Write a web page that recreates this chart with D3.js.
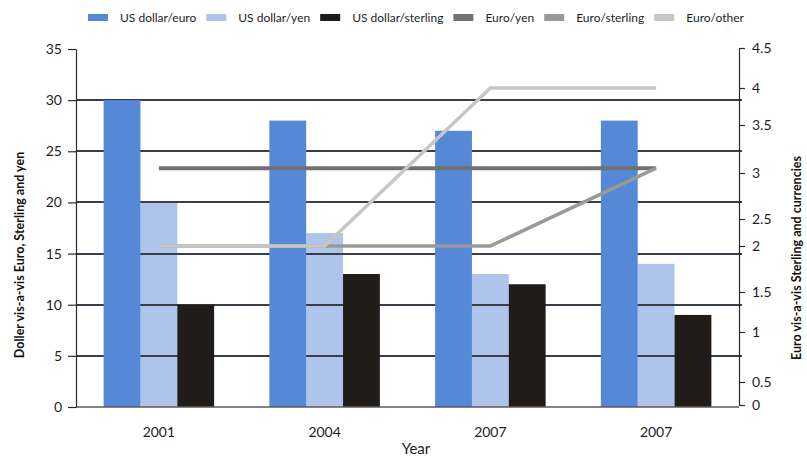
<!DOCTYPE html>
<html>
<head>
<meta charset="utf-8">
<script src="https://cdn.jsdelivr.net/npm/d3@7/dist/d3.min.js"></script>
<style>
  html, body { margin: 0; padding: 0; background: #fff; }
  svg { display: block; font-family: Lato, "Open Sans", sans-serif; }
</style>
</head>
<body>
<svg id="chart" width="807" height="458"></svg>
<script>
// Categories and series
const years = ["2001", "2004", "2007", "2007"];
const usdEuro = [30, 28, 27, 28];
const usdYen = [20, 17, 13, 14];
const usdSterling = [10, 13, 12, 9];
const euroYen = [3.05, 3.05, 3.05, 3.05];
const euroSterling = [2, 2, 2, 3.05];
const euroOther = [2, 2, 4, 4];

// Tick labels
const leftTicks = [0, 5, 10, 15, 20, 25, 30, 35];
const rightTicks = [0, 0.5, 1, 1.5, 2, 2.5, 3, 3.5, 4, 4.5];

const barSeries = [
  { name: "US dollar/euro", values: usdEuro, color: "#5588d6", underGrid: false },
  { name: "US dollar/yen", values: usdYen, color: "#afc4ea", underGrid: true },
  { name: "US dollar/sterling", values: usdSterling, color: "#201c19", underGrid: false }
];
const lineSeries = [
  { name: "Euro/yen", values: euroYen, color: "#717171", width: 4 },
  { name: "Euro/sterling", values: euroSterling, color: "#999999", width: 3.5 },
  { name: "Euro/other", values: euroOther, color: "#c6c6c6", width: 3.5 }
];

const svg = d3.select("#chart");
const plotLeft = 76, plotRight = 739, plotTop = 49, plotBottom = 407;

const x = d3.scaleBand().domain(d3.range(years.length)).range([plotLeft, plotRight])
  .paddingInner(1 / 3).paddingOuter(1 / 6);
const xc = i => x(i) + x.bandwidth() / 2;
const xSub = d3.scaleBand().domain(d3.range(barSeries.length)).range([0, x.bandwidth()]);

const yL = d3.scaleLinear().domain([0, 35]).range([plotBottom, plotTop]);
// secondary axis: tick positions as laid out on the right-hand scale
const yR = d3.scaleLinear().domain(rightTicks)
  .range([405, 382, 332, 292, 246, 219, 173, 125, 88, 48]);

const underLayer = svg.append("g").attr("class", "under");
const gridLayer = svg.append("g").attr("class", "grid");
const overLayer = svg.append("g").attr("class", "over");

// Bars
barSeries.forEach((s, si) => {
  (s.underGrid ? underLayer : overLayer).append("g").selectAll("rect")
    .data(s.values)
    .join("rect")
    .attr("x", (d, i) => x(i) + xSub(si))
    .attr("width", xSub.bandwidth())
    .attr("y", d => yL(d))
    .attr("height", d => yL(0) - yL(d))
    .attr("fill", s.color);
});

// Gridlines from the left axis: they run over the yen bars, under the others
gridLayer.selectAll("line")
  .data(leftTicks.filter(t => t > 0 && t < 35))
  .join("line")
  .attr("x1", plotLeft).attr("x2", plotRight + 3)
  .attr("y1", d => Math.round(yL(d))).attr("y2", d => Math.round(yL(d)))
  .attr("stroke", "#3a3e48").attr("stroke-width", 2);

// x baseline
svg.append("line")
  .attr("x1", plotLeft).attr("x2", plotRight)
  .attr("y1", yL(0)).attr("y2", yL(0))
  .attr("stroke", "#5e5a58").attr("stroke-width", 1.6);

// Lines on the secondary axis
const line = d3.line().x((d, i) => xc(i)).y(d => yR(d));
lineSeries.forEach(s => {
  svg.append("path")
    .datum(s.values)
    .attr("d", line)
    .attr("fill", "none")
    .attr("stroke", s.color)
    .attr("stroke-width", s.width)
    .attr("stroke-linejoin", "miter");
});

// Axes
const axisL = svg.append("g").attr("transform", `translate(${plotLeft},0)`)
  .call(d3.axisLeft(yL).tickValues(leftTicks).tickSize(8).tickSizeOuter(0).tickPadding(6));
const axisR = svg.append("g").attr("transform", `translate(${plotRight},0)`)
  .call(d3.axisRight(yR).tickValues(rightTicks).tickSize(6).tickSizeOuter(0).tickPadding(7)
    .tickFormat(d => String(d)));
[axisL, axisR].forEach(g => {
  g.select(".domain").attr("stroke", "#2a2a2a").attr("stroke-width", 1.2);
  g.selectAll(".tick line").attr("stroke", "#2a2a2a").attr("stroke-width", 1.2);
  g.selectAll(".tick text").attr("fill", "#1e1e1e")
    .style("font-family", "Lato, sans-serif").style("font-size", "14px");
});

// Category labels
svg.append("g").selectAll("text")
  .data(years)
  .join("text")
  .attr("x", (d, i) => xc(i))
  .attr("y", 437)
  .attr("text-anchor", "middle")
  .attr("fill", "#1e1e1e")
  .style("font-size", "14px")
  .text(d => d);

svg.append("text")
  .attr("x", 416).attr("y", 454)
  .attr("text-anchor", "middle")
  .attr("fill", "#1e1e1e")
  .style("font-size", "15px")
  .text("Year");

// Axis titles
svg.append("text")
  .attr("transform", "translate(24,255) rotate(-90)")
  .attr("text-anchor", "middle")
  .attr("fill", "#111")
  .style("font-size", "12.5px").style("font-weight", "bold")
  .text("Doller vis-a-vis Euro, Sterling and yen");
svg.append("text")
  .attr("transform", "translate(801,258) rotate(-90)")
  .attr("text-anchor", "middle")
  .attr("fill", "#111")
  .style("font-size", "12.5px").style("font-weight", "bold")
  .text("Euro vis-a-vis Sterling and currencies");

// Legend
const legendItems = [...barSeries, ...lineSeries];
const legend = svg.append("g");
let lx = 88;
legendItems.forEach(item => {
  legend.append("rect")
    .attr("x", lx).attr("y", 14).attr("width", 20).attr("height", 7)
    .attr("fill", item.color);
  const t = legend.append("text")
    .attr("x", lx + 32).attr("y", 22)
    .attr("fill", "#1e1e1e")
    .style("font-size", "12px")
    .text(item.name);
  lx = lx + 32 + t.node().getComputedTextLength() + 10;
});
</script>
</body>
</html>
